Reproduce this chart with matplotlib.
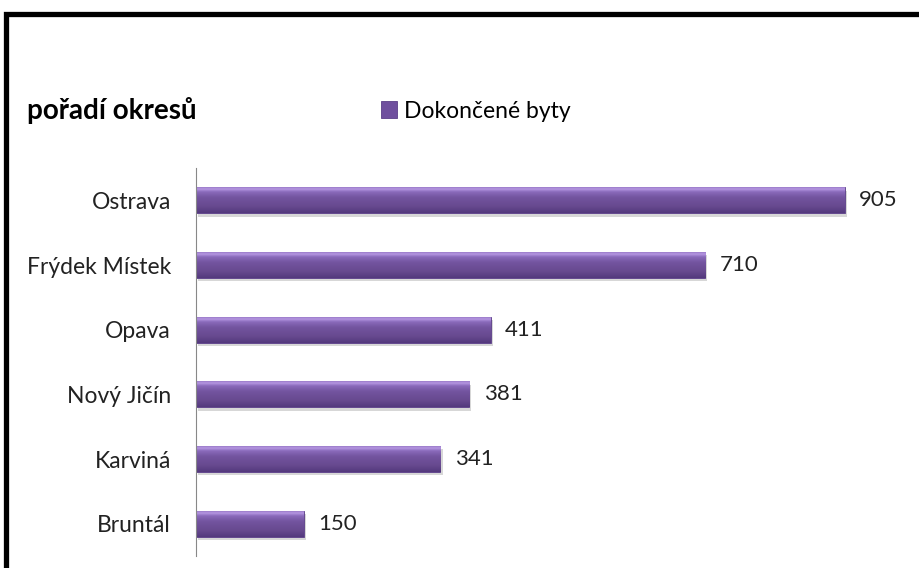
import numpy as np
import matplotlib.pyplot as plt
from matplotlib.colors import LinearSegmentedColormap
from matplotlib.patches import Rectangle

districts = ["Ostrava", "Frýdek Místek", "Opava", "Nový Jičín", "Karviná", "Bruntál"]
completed = [905, 710, 411, 381, 341, 150]
series_name = "Dokončené byty"
title = "pořadí okresů"

plt.rcParams['font.family'] = ['Lato', 'DejaVu Sans']

fig = plt.figure(figsize=(9.2, 5.68), dpi=100)
ax = fig.add_axes([196/920, 12/568, 717/920, 388/568])

pos = list(range(len(districts)))[::-1]
bar_h = 0.4

# bevelled purple look: vertical gradient inside each bar
bevel = LinearSegmentedColormap.from_list(
    'bevel', [(0.0, '#53397d'), (0.25, '#67498f'), (0.6, '#73549f'),
              (0.82, '#8a6abb'), (0.93, '#b596e2'), (1.0, '#9c7dca')])
grad = np.linspace(0, 1, 64).reshape(-1, 1)

# soft shadow under the bars
ax.barh([p - 0.05 for p in pos], completed, height=bar_h, left=3,
        color='#bdbdbd', alpha=0.6, linewidth=0, zorder=1)
bars = ax.barh(pos, completed, height=bar_h, color='#6f4f9e', edgecolor='#5b3e88',
               linewidth=0.6, label=series_name, zorder=2)
for p, v in zip(pos, completed):
    ax.imshow(grad, cmap=bevel, aspect='auto', origin='lower', zorder=3,
              extent=(0, v, p - bar_h / 2, p + bar_h / 2))
    ax.text(v + 20, p, str(v), va='center', ha='left', fontsize=16, color='#222222')

ax.set_yticks(pos)
ax.set_yticklabels(districts, fontsize=16.5, color='#222222')
ax.tick_params(axis='y', length=0, pad=18)
ax.set_xticks([])
ax.set_xlim(0, 1000)
ax.set_ylim(-0.5, len(districts) - 0.5)
for s in ['top', 'right', 'bottom']:
    ax.spines[s].set_visible(False)
ax.spines['left'].set_color('#888888')
ax.spines['left'].set_zorder(4)

fig.text(27/920, 1 - 110/568, title, fontsize=20, fontweight='bold', va='center', ha='left')
fig.legend(handles=[bars], labels=[series_name], loc='center left',
           bbox_to_anchor=(381/920, 1 - 111/568), frameon=False, fontsize=16.5,
           handlelength=0.7, handleheight=0.7, handletextpad=0.3,
           borderpad=0, borderaxespad=0)

frame = Rectangle((6/920, -0.1), 1.2, 1 - 14/568 + 0.1, transform=fig.transFigure,
                  fill=False, edgecolor='black', linewidth=3.8, clip_on=False)
fig.patches.append(frame)

fig.savefig('out.png', dpi=100)
